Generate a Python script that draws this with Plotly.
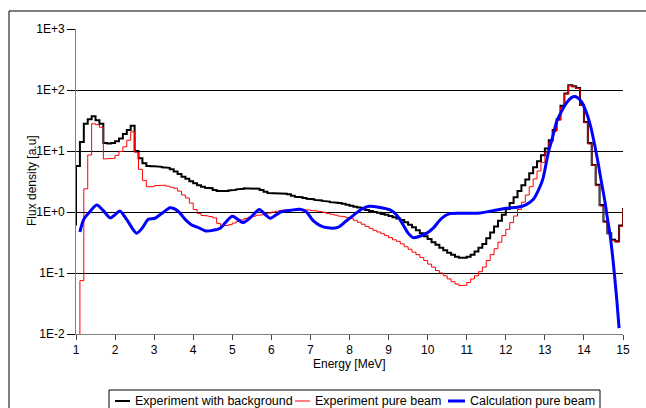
import numpy as np
import plotly.graph_objects as go

# Energy bin edges [MeV], 0.1 MeV wide, 1.0 ... 15.0
bin_edges = np.round(np.arange(1.0, 15.0001, 0.1), 1)

# Experiment with background: flux density per bin (one row per MeV)
black_values = [
    5.7, 14, 28, 33, 37, 32, 28, 13.5, 13.3, 13.5,                 # 1.x
    14.5, 16, 19, 22, 26, 10, 7.6, 6.3, 5.7, 5.6,                  # 2.x
    5.6, 5.5, 5.4, 5.3, 5.0, 4.6, 4.2, 3.8, 3.5, 3.2,              # 3.x
    2.95, 2.75, 2.6, 2.5, 2.45, 2.3, 2.2, 2.15, 2.2, 2.25,         # 4.x
    2.3, 2.35, 2.4, 2.45, 2.45, 2.45, 2.4, 2.3, 2.15, 2.05,        # 5.x
    2.02, 2.0, 2.0, 2.0, 1.95, 1.85, 1.78, 1.75, 1.7, 1.65,        # 6.x
    1.62, 1.58, 1.55, 1.52, 1.48, 1.45, 1.42, 1.4, 1.36, 1.32,     # 7.x
    1.27, 1.22, 1.18, 1.13, 1.08, 1.04, 1.0, 0.97, 0.93, 0.9,      # 8.x
    0.86, 0.82, 0.78, 0.74, 0.68, 0.62, 0.56, 0.5, 0.45, 0.4,      # 9.x
    0.36, 0.32, 0.29, 0.26, 0.235, 0.215, 0.2, 0.185, 0.177, 0.177,  # 10.x
    0.185, 0.2, 0.225, 0.26, 0.3, 0.37, 0.46, 0.58, 0.72, 0.9,     # 11.x
    1.12, 1.4, 1.75, 2.2, 2.75, 3.4, 4.3, 5.4, 6.8, 8.5,           # 12.x
    11, 15, 22, 33, 55, 88, 120, 115, 108, 57,                     # 13.x
    30, 13.5, 5.9, 2.8, 1.3, 0.7, 0.45, 0.35, 0.33, 0.6,           # 14.x
]
black_start, black_end = 0.6, 1.16

# Experiment pure beam (first bin empty: below the axis floor)
red_values = [
    0.001, 0.075, 2.4, 8.6, 28, 27, 24.5, 7.4, 7.5, 7.6,           # 1.x
    8.5, 9.8, 11.7, 15, 20.6, 9.5, 5.0, 3.3, 2.6, 2.6,             # 2.x
    2.7, 2.75, 2.75, 2.65, 2.55, 2.45, 2.2, 1.9, 1.7, 1.4,         # 3.x
    1.1, 0.95, 0.88, 0.86, 0.84, 0.8, 0.65, 0.6, 0.6, 0.62,        # 4.x
    0.66, 0.7, 0.74, 0.78, 0.82, 0.85, 0.88, 0.9, 0.93, 0.96,      # 5.x
    1.0, 1.03, 1.06, 1.08, 1.09, 1.1, 1.1, 1.1, 1.09, 1.08,        # 6.x
    1.06, 1.04, 1.02, 0.99, 0.95, 0.92, 0.89, 0.86, 0.84, 0.81,    # 7.x
    0.78, 0.73, 0.68, 0.63, 0.58, 0.54, 0.5, 0.47, 0.44, 0.41,     # 8.x
    0.38, 0.35, 0.33, 0.3, 0.27, 0.245, 0.22, 0.2, 0.18, 0.16,     # 9.x
    0.14, 0.125, 0.11, 0.1, 0.09, 0.08, 0.072, 0.066, 0.062, 0.063,  # 10.x
    0.07, 0.08, 0.09, 0.105, 0.125, 0.16, 0.2, 0.25, 0.32, 0.41,   # 11.x
    0.52, 0.67, 0.86, 1.1, 1.45, 1.9, 2.6, 3.5, 4.7, 6.5,          # 12.x
    9.5, 14, 21, 32, 52, 86, 118, 113, 106, 56,                    # 13.x
    29, 13, 5.8, 2.7, 1.25, 0.68, 0.44, 0.34, 0.32, 0.58,          # 14.x
]
red_start, red_end = 0.001, 1.12

# Calculation pure beam: energy [MeV] and flux density
calc_energy = [
    1.1, 1.2, 1.35, 1.53, 1.7, 1.88, 2.0, 2.12, 2.3, 2.55, 2.7, 2.85,
    3.02, 3.2, 3.41, 3.6, 3.8, 3.95, 4.15, 4.32, 4.5, 4.69, 4.85, 5.0,
    5.15, 5.28, 5.5, 5.69, 5.85, 5.97, 6.1, 6.25, 6.5, 6.73, 6.9, 7.07,
    7.25, 7.45, 7.7, 7.9, 8.1, 8.3, 8.5, 8.75, 9.04, 9.2, 9.35, 9.5,
    9.63, 9.8, 9.98, 10.15, 10.35, 10.55, 10.83, 11.1, 11.34, 11.6,
    12.02, 12.3, 12.5, 12.7, 12.85, 12.95, 13.09, 13.2, 13.3, 13.43,
    13.56, 13.68, 13.77, 13.86, 13.94, 14.05, 14.16, 14.27, 14.37,
    14.46, 14.54, 14.6, 14.67, 14.75, 14.8, 14.84, 14.9,
]
calc_flux = [
    0.47, 0.76, 1.0, 1.3, 1.05, 0.8, 0.9, 1.04, 0.75, 0.45, 0.55, 0.76,
    0.79, 0.95, 1.17, 1.05, 0.75, 0.62, 0.55, 0.49, 0.5, 0.54, 0.7, 0.85,
    0.75, 0.67, 0.85, 1.1, 0.9, 0.79, 0.88, 1.01, 1.07, 1.11, 1.0, 0.72,
    0.6, 0.55, 0.56, 0.7, 0.88, 1.1, 1.24, 1.2, 1.08, 0.9, 0.65, 0.45,
    0.38, 0.4, 0.45, 0.55, 0.78, 0.93, 0.95, 0.95, 0.96, 1.03,
    1.15, 1.2, 1.3, 1.6, 2.4, 3.5, 9.5, 17, 30, 45,
    62, 75, 78, 73, 64, 45, 27, 13, 6,
    2.8, 1.45, 0.8, 0.42, 0.15, 0.07, 0.037, 0.0125,
]

y_tick_vals = [0.01, 0.1, 1, 10, 100, 1000]
y_tick_text = ["1E-2", "1E-1", "1E+0", "1E+1", "1E+2", "1E+3"]
x_tick_vals = list(range(1, 16))

legend_names = ["Experiment with background", "Experiment pure beam",
                "Calculation pure beam"]


def step_xy(edges, values, start, end):
    xs, ys = [edges[0]], [start]
    for i, v in enumerate(values):
        xs += [edges[i], edges[i + 1]]
        ys += [v, v]
    xs.append(edges[-1])
    ys.append(end)
    return xs, ys


FONT = "Arial, Liberation Sans, sans-serif"
W, H = 646, 408
L, R, T, B = 76, 623, 29, 334


def px(x):
    return (x - L) / (R - L)


def py(y):
    return (B - y) / (B - T)


fig = go.Figure()

bx, by = step_xy(bin_edges, black_values, black_start, black_end)
fig.add_trace(go.Scatter(x=bx, y=by, mode="lines", name=legend_names[0],
                         line=dict(color="#000000", width=2)))

rx, ry = step_xy(bin_edges, red_values, red_start, red_end)
fig.add_trace(go.Scatter(x=rx, y=ry, mode="lines", name=legend_names[1],
                         line=dict(color="#FF0000", width=1)))

fig.add_trace(go.Scatter(x=calc_energy, y=calc_flux, mode="lines",
                         name=legend_names[2],
                         line=dict(color="#0000FF", width=3,
                                   shape="spline", smoothing=0.8)))

fig.update_layout(
    width=W, height=H,
    margin=dict(l=L, r=W - R, t=T, b=H - B, pad=0),
    paper_bgcolor="white", plot_bgcolor="white",
    showlegend=False,
    font=dict(family=FONT, color="black", size=12),
    xaxis=dict(range=[1, 15], tickvals=x_tick_vals, showgrid=False,
               zeroline=False, showline=True, linecolor="#808080",
               linewidth=1, ticks="outside", ticklen=5, tickcolor="#404040",
               tickfont=dict(size=12)),
    yaxis=dict(type="log", range=[-2, 3], tickvals=y_tick_vals,
               ticktext=y_tick_text, showgrid=True, gridcolor="#000000",
               gridwidth=1, zeroline=False, showline=True,
               linecolor="#808080", linewidth=1, ticks="outside",
               ticklen=8, tickcolor="#000000", tickfont=dict(size=12)),
)

# axis titles
fig.add_annotation(text="Energy [MeV]", x=px(349), y=py(373), xref="paper",
                   yref="paper", showarrow=False, font=dict(size=12))
fig.add_annotation(text="Flux density [a.u]", x=px(23), y=py(181),
                   xref="paper", yref="paper", showarrow=False,
                   textangle=-90, font=dict(size=12))

shapes = []
# outer chart frame
shapes.append(dict(type="rect", xref="paper", yref="paper",
                   x0=px(9), x1=px(700), y0=py(11), y1=py(460),
                   line=dict(color="black", width=1)))
# legend box
shapes.append(dict(type="rect", xref="paper", yref="paper",
                   x0=px(109), x1=px(600), y0=py(390), y1=py(430),
                   line=dict(color="black", width=1), fillcolor="white"))

legend_items = [
    (legend_names[0], "#000000", 2, 115, 130, 133),
    (legend_names[1], "#FF0000", 1, 295, 310, 313),
    (legend_names[2], "#0000FF", 3, 448, 465, 468),
]
for name, color, width, x0, x1, tx in legend_items:
    shapes.append(dict(type="line", xref="paper", yref="paper",
                       x0=px(x0), x1=px(x1), y0=py(401), y1=py(401),
                       line=dict(color=color, width=width)))
    fig.add_annotation(text=name, x=px(tx), y=py(401), xref="paper",
                       yref="paper", xanchor="left", yanchor="middle",
                       showarrow=False, font=dict(size=12.5))

fig.update_layout(shapes=shapes)

fig.write_html("out.html")
